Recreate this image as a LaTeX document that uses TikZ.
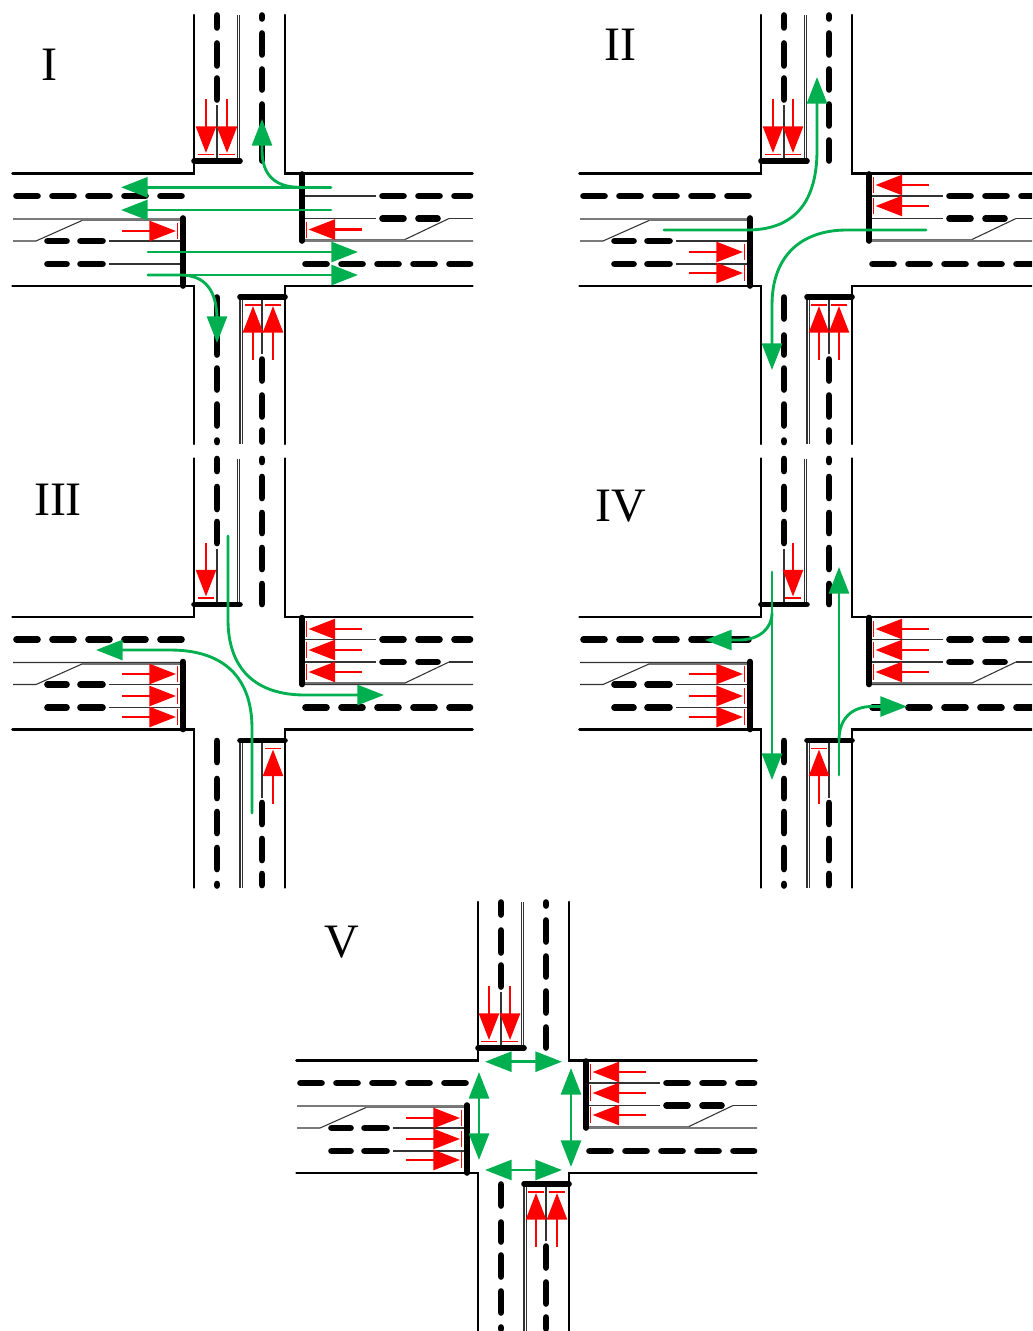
\documentclass[tikz,border=0pt]{standalone}
\usepackage{fontspec}
\setmainfont{Liberation Serif}
\usetikzlibrary{arrows.meta}
\definecolor{Flow}{HTML}{00B050}
\definecolor{Queue}{HTML}{FF0000}
\definecolor{Lane}{HTML}{333333}
\tikzset{
 roadedge/.style={line width=1.95pt, draw=black, line cap=round, line join=miter},
 stopline/.style={line width=4.2pt, draw=black, line cap=round},
 lanedash/.style={line width=5pt, draw=black, line cap=round},
 laneline/.style={line width=0.8pt, draw=Lane},
 mergeline/.style={line width=1.2pt, draw=Lane!70},
 queuearrow/.style={-{Triangle[length=20pt,width=15pt]}, line width=1.9pt, draw=Queue},
 queuebar/.style={line width=0.8pt, draw=Queue},
 flowarrow/.style={-{Triangle[length=20pt,width=15pt]}, line width=2.15pt, draw=Flow, line cap=round},
 bothflow/.style={{Triangle[length=20pt,width=15pt]}-{Triangle[length=20pt,width=15pt]}, line width=2.15pt, draw=Flow},
 panellabel/.style={font=\fontsize{36}{36}\selectfont, inner sep=0pt}
}
\newcommand{\junction}{
 \draw[laneline] (217,105) -- (217,161) (262,297) -- (262,354);
 \draw[laneline] (237.4,15) -- (237.4,161) (239.8,15) -- (239.8,161);
 \draw[laneline] (240,297) -- (240,444) (242.4,297) -- (242.4,444);
 \draw[laneline] (302,196) -- (376,196) (302,218.5) -- (376,218.5) (449,218.5) -- (473,218.5);
 \draw[laneline] (302,241) -- (473,241) (405,239.5) -- (449,218.5);
 \draw[mergeline] (302,239.5) -- (405,239.5);
 \draw[laneline] (13,219) -- (182,219) (13,241) -- (36,241) (36,241) -- (82,220.5);
 \draw[mergeline] (82,220.5) -- (182,220.5);
 \draw[laneline] (109,241) -- (183,241) (109,264) -- (183,264);
 \foreach \a/\b in {16.5/37.5,52.5/73.5,88.5/109.5,124.5/145.5,160.5/181.5,382.5/403.5,418.5/439.5,454.5/470}
  \draw[lanedash] (\a,196) -- (\b,196);
 \foreach \a/\b in {382.5/403.5,418.5/437.5}
  \draw[lanedash] (\a,218.5) -- (\b,218.5);
 \foreach \a/\b in {47.5/66.5,80.5/102.5}
  \draw[lanedash] (\a,241) -- (\b,241);
 \foreach \a/\b in {47.5/66.5,80.5/102.5,305.5/326.5,341.5/362.5,377.5/398.5,413.5/434.5,449.5/470}
  \draw[lanedash] (\a,264) -- (\b,264);
 \foreach \a/\b in {15.5/27.5,43.5/65.5,78.5/99.5,297.5/318.5,335.5/354.5,368.5/389.5,404.5/425.5,440.5/442}
  \draw[lanedash] (217,\a) -- (217,\b);
 \foreach \a/\b in {15.5/18.5,33.5/54.5,69.5/89.5,104.5/125.5,140.5/160.5,359.5/380.5,395.5/416.5,430.5/441.5}
  \draw[lanedash] (262,\a) -- (262,\b);
 \draw[roadedge] (194,15) -- (194,173.5) -- (12.5,173.5);
 \draw[roadedge] (285,15) -- (285,173.5) -- (472.5,173.5);
 \draw[roadedge] (12.5,286) -- (194,286) -- (194,444);
 \draw[roadedge] (472.5,286) -- (285,286) -- (285,444);
 \draw[stopline] (194,161) -- (240,161);
 \draw[stopline] (302,174) -- (302,241);
 \draw[stopline] (183,218) -- (183,286);
 \draw[stopline] (240,297) -- (285,297);
}
\newcommand{\queuedown}[1]{
 \foreach \x in {#1} {
  \draw[queuearrow] (\x,99) -- (\x,153);
  \draw[queuebar] (\x-8,154.5) -- (\x+8,154.5);
 }
}
\newcommand{\queueup}[1]{
 \foreach \x in {#1} {
  \draw[queuearrow] (\x,360) -- (\x,306);
  \draw[queuebar] (\x-8,305) -- (\x+8,305);
 }
}
\newcommand{\queueright}[1]{
 \foreach \y in {#1} {
  \draw[queuearrow] (122,\y) -- (176,\y);
  \draw[queuebar] (177.5,\y-8) -- (177.5,\y+8);
 }
}
\newcommand{\queueleft}[1]{
 \foreach \y in {#1} {
  \draw[queuearrow] (362,\y) -- (308.5,\y);
  \draw[queuebar] (306.5,\y-8) -- (306.5,\y+8);
 }
}
\begin{document}
\begin{tikzpicture}[x=0.75pt,y=-0.75pt]
\useasboundingbox (0,0) rectangle (1032,1331);
\clip (0,0) rectangle (1032,1331);

\begin{scope}
\junction
\queuedown{206,227}
\queueup{253,273}
\queueright{231}
\queueleft{229.5}
\draw[flowarrow] (331,187.3) -- (121,187.3);
\draw[flowarrow] (331,210) -- (121,210);
\draw[flowarrow] (148,252) -- (358,252);
\draw[flowarrow] (148,275) -- (358,275);
\draw[flowarrow] (148,275) -- (180,275) .. controls (205,275) and (217,290) .. (217,320) -- (217,343);
\draw[flowarrow] (300,187.3) .. controls (275,187.3) and (262,175) .. (262,150) -- (262,119);
\node[panellabel] (labelI) at (49,65) {I};
\end{scope}

\begin{scope}[shift={(567,0)}]
\junction
\queuedown{206,226}
\queueup{252,272}
\queueright{252,273}
\queueleft{185,206}
\draw[flowarrow] (97,230) -- (180,230) .. controls (225,230) and (250,205) .. (250,150) -- (250,77);
\draw[flowarrow] (359,230) -- (280,230) .. controls (235,230) and (205,255) .. (205,305) -- (205,370);
\node[panellabel] (labelII) at (53,45) {II};
\end{scope}

\begin{scope}[shift={(0,443.5)}]
\junction
\queuedown{206}
\queueup{273}
\queueright{230.5,252.5,273.5}
\queueleft{185.5,206.5,228.5}
\draw[flowarrow] (228,92.5) -- (228,176) .. controls (228,225) and (255,251.5) .. (305,251.5) -- (384,251.5);
\draw[flowarrow] (252,369.5) -- (252,285) .. controls (252,235) and (225,206.5) .. (170,206.5) -- (96,206.5);
\node[panellabel] (labelIII) at (58,56.5) {III};
\end{scope}

\begin{scope}[shift={(567,443.5)}]
\junction
\queuedown{226}
\queueup{252}
\queueright{230.5,252.5,273.5}
\queueleft{185.5,206.5,228.5}
\draw[flowarrow] (205,128.5) -- (205,336.5);
\draw[flowarrow] (205,169.5) .. controls (205,185) and (192,196.5) .. (172,196.5) -- (138,196.5);
\draw[flowarrow] (272,331.5) -- (272,123.5);
\draw[flowarrow] (272,296.5) .. controls (272,275) and (285,263) .. (305,263) -- (340,263);
\node[panellabel] (labelIV) at (54,62.5) {IV};
\end{scope}

\begin{scope}[shift={(284,887)}]
\junction
\queuedown{205,226}
\queueup{252,273}
\queueright{231,252,273}
\queueleft{185,206,228}
\draw[bothflow] (201,174.7) -- (278,174.7);
\draw[bothflow] (201,283) -- (278,283);
\draw[bothflow] (195,185) -- (195,273);
\draw[bothflow] (287,181) -- (287,280);
\node[panellabel] (labelV) at (58,55) {V};
\end{scope}
\end{tikzpicture}
\end{document}
